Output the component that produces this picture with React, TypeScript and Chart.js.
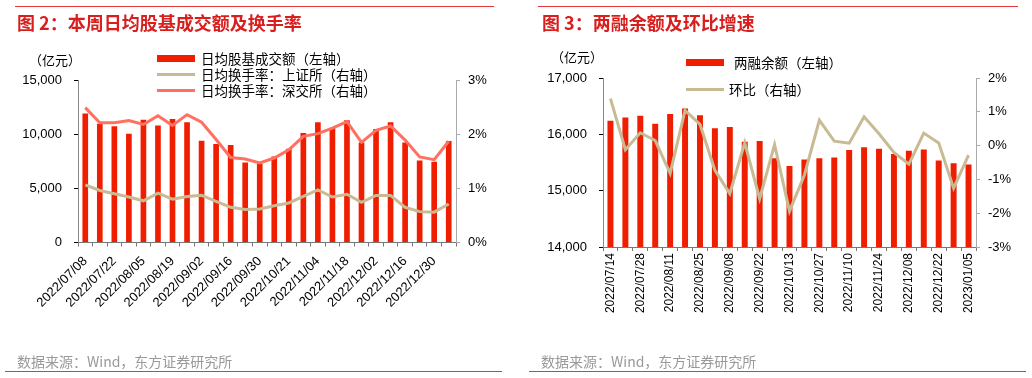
import React, { useEffect, useRef } from 'react';
import { Chart, registerables } from 'chart.js';

Chart.register(...registerables);

// ---------- data ----------
const weeks1 = ['2022/07/08','2022/07/15','2022/07/22','2022/07/29','2022/08/05','2022/08/12','2022/08/19','2022/08/26','2022/09/02','2022/09/09','2022/09/16','2022/09/23','2022/09/30','2022/10/14','2022/10/21','2022/10/28','2022/11/04','2022/11/11','2022/11/18','2022/11/25','2022/12/02','2022/12/09','2022/12/16','2022/12/23','2022/12/30','2023/01/06'];
const turnover = [11900,10970,10720,10050,11340,10790,11400,11100,9400,9090,9000,7390,7270,7950,8660,10110,11100,10600,11280,9240,10480,11100,9240,7580,7450,9370];
const shTurnoverRate = [1.065,0.96,0.90,0.84,0.77,0.91,0.80,0.85,0.87,0.76,0.65,0.61,0.62,0.68,0.73,0.85,0.97,0.84,0.89,0.74,0.87,0.87,0.65,0.57,0.56,0.71];
const szTurnoverRate = [2.49,2.21,2.21,2.25,2.18,2.34,2.16,2.36,2.22,1.90,1.57,1.54,1.47,1.56,1.71,1.96,2.01,2.11,2.23,1.85,2.07,2.15,1.89,1.58,1.53,1.87];
const leftTicks1 = [0, 5000, 10000, 15000];
const rightTicks1 = [0, 1, 2, 3];

const weeks2 = ['2022/07/14','2022/07/21','2022/07/28','2022/08/04','2022/08/11','2022/08/18','2022/08/25','2022/09/01','2022/09/08','2022/09/15','2022/09/22','2022/09/29','2022/10/13','2022/10/20','2022/10/27','2022/11/03','2022/11/10','2022/11/17','2022/11/24','2022/12/01','2022/12/08','2022/12/15','2022/12/22','2022/12/29','2023/01/05'];
const marginBalance = [16240,16300,16330,16190,16360,16460,16340,16110,16130,15870,15880,15575,15440,15555,15575,15590,15720,15770,15745,15650,15710,15730,15535,15485,15465];
const marginMoM = [1.39,-0.12,0.38,0.15,-0.82,1.04,0.63,-0.73,-1.42,0.08,-1.57,0.03,-1.94,-0.87,0.75,0.13,0.07,0.85,0.35,-0.20,-0.55,0.37,0.08,-1.26,-0.28];
const leftTicks2 = [14000, 15000, 16000, 17000];
const rightTicks2 = [-3, -2, -1, 0, 1, 2];

// ---------- styles ----------
const RED = 'rgb(240,30,0)';
const SALMON = 'rgb(255,112,96)';
const TAN = 'rgb(200,186,146)';
const TITLE_RED = '#d91e1e';
const RULE_RED = '#e2393a';
const LATIN = '"Liberation Sans", Arial, sans-serif';
const CJK = '"Noto Sans CJK SC", "Noto Sans", sans-serif';

const fmt = (v: number) => v.toLocaleString('en-US');

function T(props: { x: number; y: number; size: number; color?: string; weight?: number; family?: string; children: React.ReactNode }) {
  const lh = Math.round(props.size * 1.4);
  return (
    <div
      style={{
        position: 'absolute',
        left: props.x,
        top: props.y - lh / 2,
        fontSize: props.size,
        lineHeight: `${lh}px`,
        color: props.color || '#000',
        fontWeight: props.weight || 400,
        fontFamily: props.family || CJK,
        whiteSpace: 'nowrap',
      }}
    >
      {props.children}
    </div>
  );
}

function Rule(props: { x1: number; x2: number; y: number }) {
  return <div style={{ position: 'absolute', left: props.x1, top: props.y, width: props.x2 - props.x1, height: 1, background: RULE_RED }} />;
}

function Swatch(props: { x: number; y: number; w: number; h: number; color: string }) {
  return <div style={{ position: 'absolute', left: props.x, top: props.y - props.h / 2, width: props.w, height: props.h, background: props.color }} />;
}

function LeftChart() {
  const ref = useRef<HTMLCanvasElement>(null);
  useEffect(() => {
    if (!ref.current) return;
    const tickFont = { family: LATIN, size: 13 };
    const chart = new Chart(ref.current, {
      type: 'bar',
      data: {
        labels: weeks1,
        datasets: [
          { type: 'line', label: '日均换手率：深交所（右轴）', data: szTurnoverRate, yAxisID: 'y1', borderColor: SALMON, borderWidth: 3, pointRadius: 0, tension: 0, order: 0 } as any,
          { type: 'line', label: '日均换手率：上证所（右轴）', data: shTurnoverRate, yAxisID: 'y1', borderColor: TAN, borderWidth: 3, pointRadius: 0, tension: 0, order: 1 } as any,
          { type: 'bar', label: '日均股基成交额（左轴）', data: turnover, yAxisID: 'y', backgroundColor: RED, barPercentage: 0.39, categoryPercentage: 1, order: 2 } as any,
        ],
      },
      options: {
        responsive: false,
        animation: false,
        layout: { padding: { top: 80, left: 0, right: 0, bottom: 0 } },
        plugins: { legend: { display: false }, tooltip: { enabled: false } },
        scales: {
          x: {
            grid: { display: true, drawOnChartArea: false, drawTicks: true, tickLength: 4, color: '#777', offset: true },
            border: { color: '#777' },
            ticks: {
              autoSkip: false, minRotation: 45, maxRotation: 45, padding: 7, font: tickFont, color: '#000',
              callback: (_v: any, i: number) => (i % 2 === 0 ? weeks1[i] : ''),
            },
            afterFit: (s: any) => { s.height = 135.5; },
          },
          y: {
            position: 'left', min: leftTicks1[0], max: leftTicks1[leftTicks1.length - 1],
            afterBuildTicks: (s: any) => { s.ticks = leftTicks1.map((v) => ({ value: v })); },
            ticks: { padding: 12, font: tickFont, color: '#000', callback: (v: any) => fmt(Number(v)) },
            grid: { drawOnChartArea: false, tickLength: 4, color: '#000' },
            border: { color: '#888' },
            afterFit: (s: any) => { s.width = 78; },
          },
          y1: {
            position: 'right', min: rightTicks1[0], max: rightTicks1[rightTicks1.length - 1],
            afterBuildTicks: (s: any) => { s.ticks = rightTicks1.map((v) => ({ value: v })); },
            ticks: { padding: 8, font: tickFont, color: '#000', callback: (v: any) => `${v}%` },
            grid: { drawOnChartArea: false, tickLength: 4, color: '#aaa' },
            border: { color: '#aaa' },
            afterFit: (s: any) => { s.width = 60; },
          },
        },
      } as any,
    });
    return () => chart.destroy();
  }, []);
  return <canvas ref={ref} width={516} height={378} style={{ position: 'absolute', left: 0, top: 0, width: 516, height: 378 }} />;
}

function RightChart() {
  const ref = useRef<HTMLCanvasElement>(null);
  useEffect(() => {
    if (!ref.current) return;
    const tickFont = { family: LATIN, size: 13 };
    const chart = new Chart(ref.current, {
      type: 'bar',
      data: {
        labels: weeks2,
        datasets: [
          { type: 'line', label: '环比（右轴）', data: marginMoM, yAxisID: 'y1', borderColor: TAN, borderWidth: 3, pointRadius: 0, tension: 0, order: 0 } as any,
          { type: 'bar', label: '两融余额（左轴）', data: marginBalance, yAxisID: 'y', backgroundColor: RED, barPercentage: 0.4, categoryPercentage: 1, order: 1 } as any,
        ],
      },
      options: {
        responsive: false,
        animation: false,
        layout: { padding: { top: 78, left: 0, right: 0, bottom: 0 } },
        plugins: { legend: { display: false }, tooltip: { enabled: false } },
        scales: {
          x: {
            grid: { display: true, drawOnChartArea: false, drawTicks: true, tickLength: 4, color: '#777', offset: true },
            border: { color: '#777' },
            ticks: {
              autoSkip: false, minRotation: 90, maxRotation: 90, padding: 2, font: { family: LATIN, size: 12 }, color: '#000',
              callback: (_v: any, i: number) => (i % 2 === 0 ? weeks2[i] : ''),
            },
            afterFit: (s: any) => { s.height = 131; },
          },
          y: {
            position: 'left', min: leftTicks2[0], max: leftTicks2[leftTicks2.length - 1],
            afterBuildTicks: (s: any) => { s.ticks = leftTicks2.map((v) => ({ value: v })); },
            ticks: { padding: 12, font: tickFont, color: '#000', callback: (v: any) => fmt(Number(v)) },
            grid: { drawOnChartArea: false, tickLength: 4, color: '#000' },
            border: { color: '#888' },
            afterFit: (s: any) => { s.width = 87; },
          },
          y1: {
            position: 'right', min: rightTicks2[0], max: rightTicks2[rightTicks2.length - 1],
            afterBuildTicks: (s: any) => { s.ticks = rightTicks2.map((v) => ({ value: v })); },
            ticks: { padding: 8, font: tickFont, color: '#000', callback: (v: any) => `${v}%` },
            grid: { drawOnChartArea: false, tickLength: 4, color: '#aaa' },
            border: { color: '#aaa' },
            afterFit: (s: any) => { s.width = 56; },
          },
        },
      } as any,
    });
    return () => chart.destroy();
  }, []);
  return <canvas ref={ref} width={516} height={378} style={{ position: 'absolute', left: 516, top: 0, width: 516, height: 378 }} />;
}

export default function App() {
  return (
    <div style={{ position: 'absolute', left: 0, top: 0, width: 1032, height: 378, background: '#fff', overflow: 'hidden' }}>
      <LeftChart />
      <RightChart />

      {/* left panel decorations */}
      <Rule x1={15} x2={494} y={6} />
      <T x={17} y={22} size={18} weight={700} color={TITLE_RED}>图 2：本周日均股基成交额及换手率</T>
      <T x={29} y={60} size={13}>（亿元）</T>
      <Swatch x={157} y={58} w={38} h={7} color={RED} />
      <T x={201} y={58} size={13.5}>日均股基成交额（左轴）</T>
      <Swatch x={157} y={74} w={38} h={3} color={TAN} />
      <T x={201} y={74} size={13.5}>日均换手率：上证所（右轴）</T>
      <Swatch x={157} y={90} w={38} h={3} color={SALMON} />
      <T x={201} y={90} size={13.5}>日均换手率：深交所（右轴）</T>
      <T x={17} y={361} size={14} color="#999">数据来源：Wind，东方证券研究所</T>
      <Rule x1={5} x2={502} y={371} />

      {/* right panel decorations */}
      <Rule x1={538} x2={1018} y={6} />
      <T x={542} y={22} size={18} weight={700} color={TITLE_RED}>图 3：两融余额及环比增速</T>
      <T x={551} y={57} size={13}>（亿元）</T>
      <Swatch x={686} y={62} w={38} h={7} color={RED} />
      <T x={734} y={62} size={13.5}>两融余额（左轴）</T>
      <Swatch x={686} y={89} w={38} h={3} color={TAN} />
      <T x={729} y={89} size={13.5}>环比（右轴）</T>
      <T x={541} y={361} size={14} color="#999">数据来源：Wind，东方证券研究所</T>
      <Rule x1={529} x2={1026} y={371} />
    </div>
  );
}
